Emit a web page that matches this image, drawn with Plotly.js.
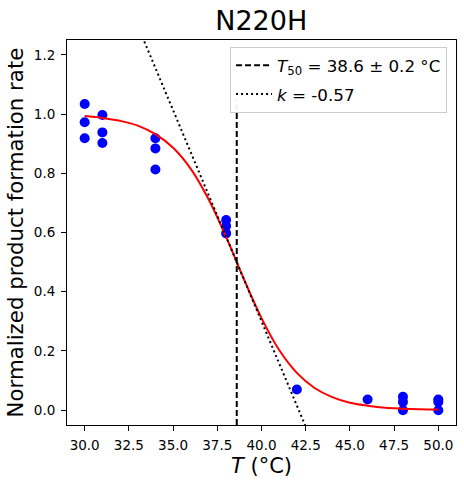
<!DOCTYPE html>
<html>
<head>
<meta charset="utf-8">
<script src="https://cdn.plot.ly/plotly-3.0.1.min.js"></script>
<style>html,body{margin:0;padding:0;background:#fff;}#chart{width:464px;height:487px;}</style>
</head>
<body>
<div id="chart"></div>
<script>
// Measured points
const tempPoints = [30, 30, 30, 31, 31, 31, 34, 34, 34, 38, 38, 38, 42, 46, 48, 48, 48, 50, 50, 50];
const ratePoints = [1.034, 0.972, 0.918, 0.997, 0.938, 0.902, 0.918, 0.884, 0.813, 0.642, 0.622, 0.597, 0.070, 0.036, 0.045, 0.028, 0.0, 0.036, 0.028, 0.0];

// Fitted sigmoid curve
const fitTemp = [30, 31, 32, 33, 34, 35, 36, 37, 38, 39, 40, 41, 42, 43, 44, 45, 46, 47, 48, 49, 50];
const fitRate = [0.993, 0.987, 0.977, 0.961, 0.932, 0.886, 0.815, 0.713, 0.585, 0.443, 0.311, 0.203, 0.126, 0.075, 0.044, 0.025, 0.015, 0.008, 0.005, 0.003, 0.002];

// T50 marker line
const t50Temp = [38.6, 38.6];
const t50Rate = [-0.05, 1.05];

// Tangent (slope) line
const slopeTemp = [29, 51];
const slopeRate = [1.868, -1.267];

const t50Label = '<i>T</i><sub>50</sub> = 38.6 ± 0.2 °C';
const kLabel = '<i>k</i> = -0.57';
const xTicks = [30, 32.5, 35, 37.5, 40, 42.5, 45, 47.5, 50];
const yTicks = [0, 0.2, 0.4, 0.6, 0.8, 1.0, 1.2];

const traces = [
  {x: tempPoints, y: ratePoints, type: 'scatter', mode: 'markers',
   marker: {color: '#0000ff', size: 10}, showlegend: false},
  {x: fitTemp, y: fitRate, type: 'scatter', mode: 'lines',
   line: {color: '#ff0000', width: 2, shape: 'spline'}, showlegend: false},
  {x: t50Temp, y: t50Rate, type: 'scatter', mode: 'lines', name: t50Label, legendgroup: 'a',
   line: {color: '#000000', width: 2, dash: '6px,3px'}},
  {x: slopeTemp, y: slopeRate, type: 'scatter', mode: 'lines', name: kLabel, legendgroup: 'b',
   line: {color: '#000000', width: 2, dash: '2px,3px'}}
];

const font = 'DejaVu Sans, sans-serif';
const layout = {
  width: 464, height: 487,
  margin: {l: 67, r: 8, t: 40, b: 62},
  paper_bgcolor: '#ffffff', plot_bgcolor: '#ffffff',
  font: {family: font, color: '#000000', size: 13.5},
  title: {text: 'N220H', font: {family: font, size: 27, color: '#000'}, x: 0.563, xanchor: 'center', y: 0.958, yanchor: 'middle'},
  xaxis: {
    range: [29, 51], tickvals: xTicks, tickformat: '.1f',
    ticks: 'outside', ticklen: 5, tickwidth: 1, tickcolor: '#000',
    ticklabelstandoff: 3,
    showline: true, mirror: true, linecolor: '#000', linewidth: 1,
    showgrid: false, zeroline: false,
    tickfont: {family: font, size: 13.5},
    title: {text: '<i>T</i> (°C)', font: {family: font, size: 21}, standoff: 6}
  },
  yaxis: {
    range: [-0.05, 1.25], tickvals: yTicks, tickformat: '.1f',
    ticks: 'outside', ticklen: 5, tickwidth: 1, tickcolor: '#000',
    ticklabelstandoff: 3,
    showline: true, mirror: true, linecolor: '#000', linewidth: 1,
    showgrid: false, zeroline: false,
    tickfont: {family: font, size: 13.5},
    title: {text: 'Normalized product formation rate', font: {family: font, size: 21.3}, standoff: 4}
  },
  legend: {
    x: 0.977, y: 0.982, xanchor: 'right', yanchor: 'top',
    bgcolor: 'rgba(255,255,255,0.95)', bordercolor: '#cccccc', borderwidth: 1,
    font: {family: font, size: 16.7}, tracegroupgap: 4, itemwidth: 36
  },
  showlegend: true
};

Plotly.newPlot('chart', traces, layout, {staticPlot: true, displayModeBar: false});
</script>
</body>
</html>
